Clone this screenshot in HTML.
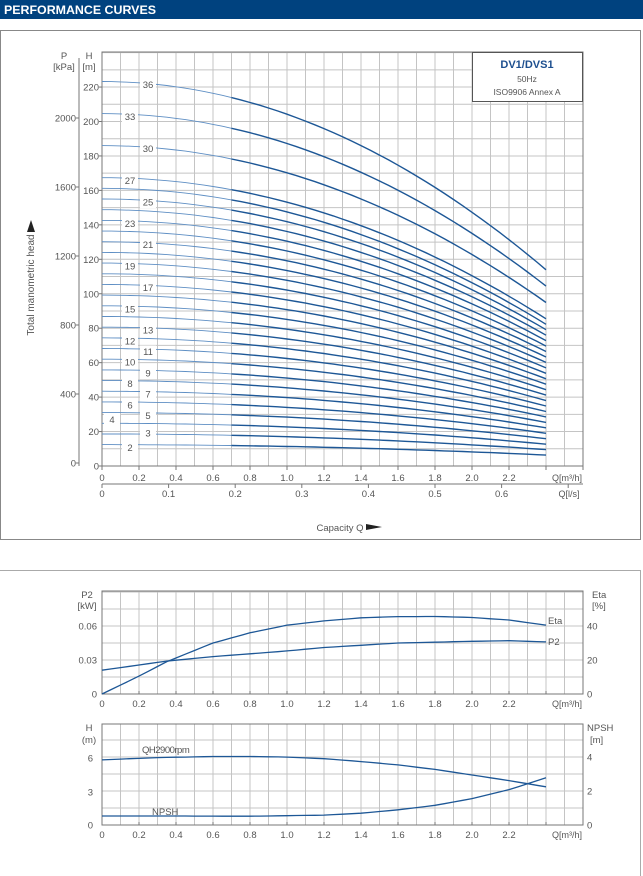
<!DOCTYPE html>
<html><head><meta charset="utf-8"><style>
body{margin:0;background:#fff;width:643px;height:876px;overflow:hidden}
svg{display:block;font-family:"Liberation Sans",sans-serif}
</style></head><body>
<svg id="s" width="643" height="876" viewBox="0 0 643 876" xmlns="http://www.w3.org/2000/svg">
<rect x="0" y="0" width="643" height="19" fill="#00427f"/>
<text x="4" y="14" fill="#fff" font-size="12" font-weight="bold" textLength="152" lengthAdjust="spacingAndGlyphs">PERFORMANCE CURVES</text>
<rect x="0.5" y="30.5" width="640" height="509" fill="none" stroke="#888" stroke-width="1"/>
<path d="M0 570.5H640.5V876" fill="none" stroke="#aaa"/>
<g id="g"></g>
</svg>
<script>
const g=document.getElementById('g');let h='';
const C='#1d5796',GR='#c4c4c4',T='#555';
function t(x,y,s,a,fs,ex){h+=`<text x="${x}" y="${y}" font-size="${fs||9.5}" fill="${T}" text-anchor="${a||'middle'}" ${ex||''}>${s}</text>`;}
function l(x1,y1,x2,y2,c,w){h+=`<line x1="${x1}" y1="${y1}" x2="${x2}" y2="${y2}" stroke="${c}" stroke-width="${w||1}"/>`;}
const X0=102,PX=185,XR=583;const qx=q=>X0+q*PX;
const YT=52,Y0=466,HS=1.7225;const hy=H=>Y0-H*HS;
for(let i=0;i<=26;i++){l(qx(i*0.1),YT,qx(i*0.1),Y0,GR,1);}
for(let H=0;H<=240;H+=10){l(X0,hy(H),XR,hy(H),GR,1);}
h+=`<rect x="${X0}" y="${YT}" width="${XR-X0}" height="${Y0-YT}" fill="none" stroke="#777"/>`;
[0,20,40,60,80,100,120,140,160,180,200,220].forEach(H=>{t(99,hy(H)+3.5,H,'end');l(X0-3,hy(H),X0,hy(H),'#777');});
l(79,58,79,466,'#777');
[0,400,800,1200,1600,2000].forEach(P=>{const y=463-P*0.1725;t(76,y+3.5,P,'end');l(76,y,79,y,'#777');});
t(64,59,'P');t(64,70,'[kPa]');t(89,59,'H');t(89,70,'[m]');
l(X0,484,XR,484,'#777');
for(let i=0;i<=13;i++){l(qx(i*0.2),466,qx(i*0.2),470,'#777');if(i<12)t(qx(i*0.2),481,['0','0.2','0.4','0.6','0.8','1.0','1.2','1.4','1.6','1.8','2.0','2.2'][i]);}
t(567,481,'Q[m³/h]','middle',9);
for(let i=0;i<=7;i++){const x=X0+i*66.6;l(x,484,x,488,'#777');if(i<7)t(x,497,i==0?'0':'0.'+i);}
t(569,497,'Q[l/s]','middle',9);
t(340,531,'Capacity Q','middle',9.5);h+=`<polygon points="366,524 382,527 366,530" fill="#222"/>`;
h+=`<text transform="translate(34,285) rotate(-90)" font-size="10" fill="${T}" text-anchor="middle">Total manometric head</text>`;
h+=`<polygon points="27,232 35,232 31,220" fill="#222"/>`;
const hq=q=>6.2*(1-0.085*q*q);
const st=[2,3,4,5,6,7,8,9,10,11,12,13,14,15,16,17,18,19,20,21,22,23,24,25,26,27,30,33,36];
st.forEach(n=>{let p1='',p2='';for(let k=0;k<=14;k++){const q=k*0.05;p1+=(p1?'L':'M')+qx(q).toFixed(1)+' '+hy(n*hq(q)).toFixed(1);}
for(let k=14;k<=48;k++){const q=k*0.05;p2+=(p2?'L':'M')+qx(q).toFixed(1)+' '+hy(n*hq(q)).toFixed(1);}
h+=`<path d="${p1}" fill="none" stroke="#5f8fc4" stroke-width="0.9"/><path d="${p2}" fill="none" stroke="${C}" stroke-width="1.4"/>`;});
const lab={36:148,33:130,30:148,27:130,25:148,23:130,21:148,19:130,17:148,15:130,13:148,12:130,11:148,10:130,9:148,8:130,7:148,6:130,5:148,4:112,3:148,2:130};
for(const k in lab){const y=hy(k*6.2)+(k==4?-4:k==3?-1:3);h+=`<rect x="${lab[k]-8}" y="${y-6}" width="16" height="12" fill="#fff"/>`;t(lab[k],y+3.5,k);}
h+=`<rect x="472.5" y="52.5" width="110" height="49" fill="#fff" stroke="#555"/>`;
t(527,68,'DV1/DVS1','middle',11,'font-weight="bold" style="fill:#1d4f8f"');t(527,82,'50Hz','middle',8.5);t(527,95,'ISO9906 Annex A','middle',8.5);
function frame(yt,yb,rows){for(let i=0;i<=26;i++)l(qx(i*0.1),yt,qx(i*0.1),yb,GR);for(let i=0;i<=rows;i++){const y=yb-i*17;if(y>=yt)l(X0,y,XR,y,GR);}
h+=`<rect x="${X0}" y="${yt}" width="${XR-X0}" height="${yb-yt}" fill="none" stroke="#777"/>`;
for(let i=0;i<=13;i++){l(qx(i*0.2),yb,qx(i*0.2),yb-3,'#777');if(i<12)t(qx(i*0.2),yb+13,['0','0.2','0.4','0.6','0.8','1.0','1.2','1.4','1.6','1.8','2.0','2.2'][i]);}
t(567,yb+13,'Q[m³/h]','middle',9);}
frame(591,694,6);frame(724,825,6);
[['0',694],['0.03',660],['0.06',626]].forEach(a=>t(97,a[1]+3.5,a[0],'end'));
[['0',694],['20',660],['40',626]].forEach(a=>t(587,a[1]+3.5,a[0],'start'));
t(87,598,'P2');t(87,609,'[kW]');t(592,598,'Eta','start');t(592,609,'[%]','start');
[['0',825],['3',792],['6',758]].forEach(a=>t(93,a[1]+3.5,a[0],'end'));
[['0',825],['2',791],['4',757]].forEach(a=>t(587,a[1]+3.5,a[0],'start'));
t(89,731,'H');t(89,743,'(m)');t(587,731,'NPSH','start');t(590,743,'[m]','start');
function crv(pts,fx,fy){let d='';pts.forEach((p,i)=>d+=(i?'L':'M')+fx(p[0]).toFixed(1)+' '+fy(p[1]).toFixed(1));h+=`<path d="${d}" fill="none" stroke="${C}" stroke-width="1.3" stroke-linejoin="round"/>`;}
function sm(pts){const o=[];for(let k=0;k<=48;k++){const q=k*0.05;let i=0;while(i<pts.length-2&&q>pts[i+1][0])i++;const a=pts[i],b=pts[i+1];o.push([q,a[1]+(b[1]-a[1])*(q-a[0])/(b[0]-a[0])]);}return o;}
const ey=e=>694-e*1.7;const py=p=>694-p*1133;
crv(sm([[0,0],[0.2,10.5],[0.35,19],[0.6,30],[0.8,36],[1.0,40.5],[1.2,43],[1.4,44.8],[1.6,45.5],[1.8,45.6],[2.0,45],[2.2,43.5],[2.4,40.5]]),qx,ey);
crv(sm([[0,0.021],[0.35,0.029],[0.6,0.033],[1.0,0.038],[1.2,0.041],[1.6,0.045],[2.0,0.0465],[2.2,0.047],[2.4,0.046]]),qx,py);
t(548,624,'Eta','start');t(548,645,'P2','start');
const Hy=v=>825-v*11.23;
crv(sm([[0,5.8],[0.3,6.0],[0.6,6.1],[0.8,6.1],[1.0,6.05],[1.2,5.9],[1.4,5.65],[1.6,5.35],[1.8,4.95],[2.0,4.45],[2.2,3.95],[2.4,3.4]]),qx,Hy);
crv(sm([[0,0.8],[0.4,0.8],[0.8,0.78],[1.2,0.88],[1.4,1.05],[1.6,1.35],[1.8,1.75],[2.0,2.35],[2.2,3.15],[2.4,4.2]]),qx,Hy);
t(142,753,'QH2900rpm','start',9.5,'letter-spacing="-0.5"');t(152,815,'NPSH','start');
g.innerHTML=h;
</script>
</body></html>
